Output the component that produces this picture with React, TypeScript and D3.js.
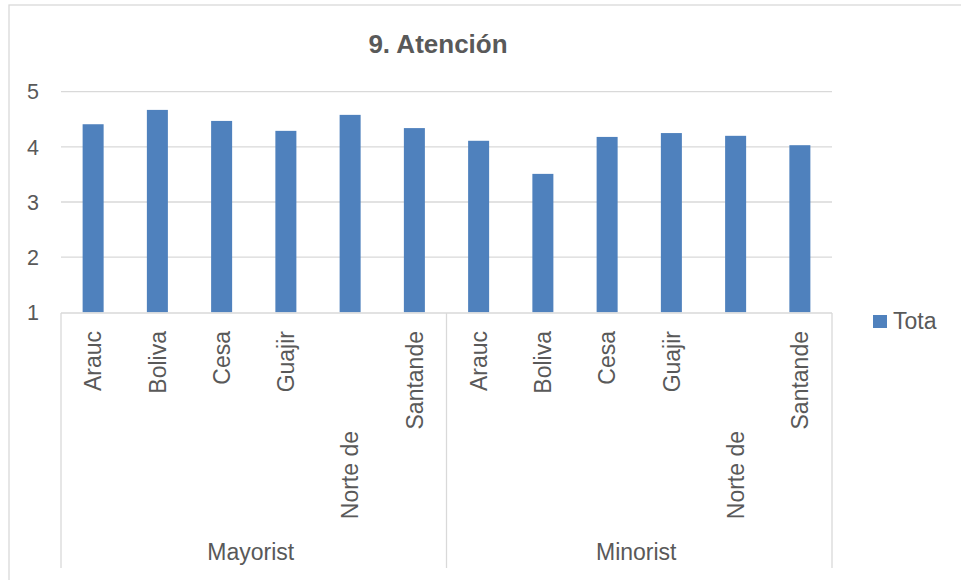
import React from "react";
import * as d3 from "d3";

const groups = ["Mayorist", "Minorist"];
const categories = ["Arauc", "Boliva", "Cesa", "Guajir", "Norte de", "Santande"];
const mayoristValues = [4.41, 4.67, 4.47, 4.29, 4.58, 4.34];
const minoristValues = [4.11, 3.51, 4.18, 4.25, 4.2, 4.03];
const yTicks = [1, 2, 3, 4, 5];
const seriesName = "Tota";
const title = "9. Atención";

const W = 961;
const H = 580;
const FONT = "'Liberation Sans', Arial, sans-serif";
const TEXT = "#595959";
const GRID = "#d9d9d9";
const BAR = "#4f81bd";

export default function App() {
  const left = 61;
  const right = 832;
  const top = 91.7;
  const bottom = 312.3;

  const rows = groups.flatMap((g, gi) =>
    categories.map((c, ci) => ({
      key: `${g}-${c}`,
      group: g,
      cat: c,
      ci,
      value: gi === 0 ? mayoristValues[ci] : minoristValues[ci],
    }))
  );

  const x = d3.scaleBand<string>().domain(rows.map((r) => r.key)).range([left, right]).padding(0);
  const y = d3.scaleLinear().domain([1, 5]).range([bottom, top]);
  const bw = x.bandwidth() * 0.327;

  const groupW = (right - left) / groups.length;
  const sepY2 = 568;

  return (
    <svg
      width={W}
      height={H}
      style={{ position: "fixed", left: 0, top: 0, background: "#fff" }}
      fontFamily={FONT}
    >
      <rect x={0} y={0} width={W} height={H} fill="#fff" />
      <rect x={9} y={5} width={W + 20} height={H + 20} fill="none" stroke={GRID} strokeWidth={1.3} />
      <text x={438} y={53} textAnchor="middle" fontSize={26} fontWeight="bold" fill={TEXT}>
        {title}
      </text>
      {yTicks.map((t) => (
        <g key={t}>
          {t > 1 && (
            <line x1={left} x2={right} y1={y(t)} y2={y(t)} stroke={GRID} strokeWidth={1.3} />
          )}
          <text x={39} y={y(t)} dy="0.36em" textAnchor="end" fontSize={21.5} fill={TEXT}>
            {t}
          </text>
        </g>
      ))}
      {rows.map((r) => {
        const cx = (x(r.key) as number) + x.bandwidth() / 2;
        return (
          <rect
            key={r.key}
            x={cx - bw / 2}
            y={y(r.value)}
            width={bw}
            height={y(1) - y(r.value)}
            fill={BAR}
          />
        );
      })}
      <line x1={left} x2={right} y1={bottom + 0.7} y2={bottom + 0.7} stroke={GRID} strokeWidth={1.3} />
      {d3.range(groups.length + 1).map((i) => (
        <line
          key={i}
          x1={left + i * groupW}
          x2={left + i * groupW}
          y1={bottom + 0.7}
          y2={sepY2}
          stroke={GRID}
          strokeWidth={1.3}
        />
      ))}
      {rows.map((r) => {
        const cx = (x(r.key) as number) + x.bandwidth() / 2;
        const endY = r.ci === 4 ? 431 : 331;
        return (
          <text
            key={r.key + "-l"}
            transform={`translate(${cx},${endY}) rotate(-90)`}
            dy="0.36em"
            textAnchor="end"
            fontSize={23}
            fill={TEXT}
          >
            {r.cat}
          </text>
        );
      })}
      {groups.map((g, i) => (
        <text
          key={g}
          x={left + (i + 0.5) * groupW - 3}
          y={560}
          textAnchor="middle"
          fontSize={23}
          fill={TEXT}
        >
          {g}
        </text>
      ))}
      <rect x={873} y={315} width={14} height={13} fill={BAR} />
      <text x={893} y={328.5} fontSize={23} fill={TEXT}>
        {seriesName}
      </text>
    </svg>
  );
}
